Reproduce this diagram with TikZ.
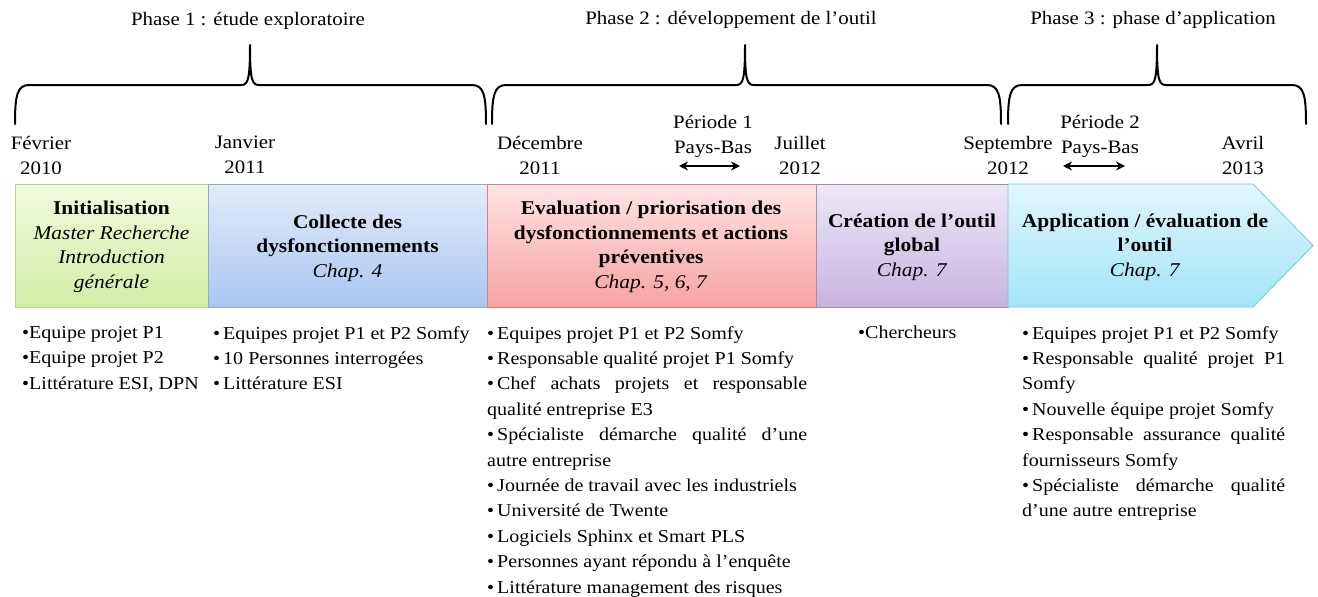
\documentclass[tikz,border=0pt]{standalone}
\usepackage{fontspec}
\setmainfont{Liberation Serif}[FakeStretch=1.1]
\usetikzlibrary{arrows.meta}

\definecolor{gTop}{HTML}{F0FADD}\definecolor{gBot}{HTML}{D4EEA6}\definecolor{gLine}{HTML}{B3D68A}
\definecolor{bTop}{HTML}{E2ECFB}\definecolor{bBot}{HTML}{A9C6F2}\definecolor{bLine}{HTML}{8EAADB}
\definecolor{rTop}{HTML}{FFE4E4}\definecolor{rBot}{HTML}{F7A3A0}\definecolor{rLine}{HTML}{E07C7C}
\definecolor{pTop}{HTML}{EEE8F6}\definecolor{pBot}{HTML}{C6B3E0}\definecolor{pLine}{HTML}{A08CC0}
\definecolor{cTop}{HTML}{E0F6FD}\definecolor{cBot}{HTML}{A3E4F8}\definecolor{cLine}{HTML}{74C5E0}

% curly brace over a phase: left end, tip, right end
\newcommand\phbrace[3]{%
  \draw[brace] (#1,124) .. controls (#1,96) and (#1+2,85) .. (#1+14,85)
    -- (#2-9,85) .. controls (#2-2,85) and (#2,80) .. (#2,45)
    .. controls (#2,80) and (#2+2,85) .. (#2+9,85)
    -- (#3-14,85) .. controls (#3-2,85) and (#3,96) .. (#3,124);}

\begin{document}
\begin{tikzpicture}[x=1pt,y=-1pt,
  lbl/.style={align=center,inner sep=0pt,font=\fontsize{19}{25}\selectfont},
  boxtxt/.style={align=center,inner sep=0pt,font=\fontsize{19.5}{24.5}\selectfont},
  lst/.style={anchor=north west,inner sep=0pt,align=justify,font=\fontsize{18.2}{25.4}\selectfont},
  brace/.style={line width=2pt,line cap=round,line join=round},
  period/.style={line width=2.2pt,{Stealth[length=9pt,width=9pt]}-{Stealth[length=9pt,width=9pt]}},
  stage/.style={line width=0.8pt}
]
\useasboundingbox (0,0) rectangle (1318,597);

% phase titles and braces
\node[lbl] (ph1) at (248,21) {Phase 1 : étude exploratoire};
\node[lbl] (ph2) at (731,20) {Phase 2 : développement de l’outil};
\node[lbl] (ph3) at (1153,20) {Phase 3 : phase d’application};
\phbrace{15}{250}{486}
\phbrace{492}{745}{1001}
\phbrace{1008}{1157}{1306}

% milestone dates
\node[lbl] (d1) at (41,155) {Février\\2010};
\node[lbl] (d2) at (245,155) {Janvier\\2011};
\node[lbl] (d3) at (540,155) {Décembre\\2011};
\node[lbl] (d4) at (800,155) {Juillet\\2012};
\node[lbl] (d5) at (1008,155) {Septembre\\2012};
\node[lbl] (d6) at (1243,155) {Avril\\2013};

% stays in the Netherlands
\node[lbl] (p1) at (713,136) {Période 1\\Pays-Bas};
\node[lbl] (p2) at (1100,136) {Période 2\\Pays-Bas};
\coordinate (p1a) at (679,166); \coordinate (p1b) at (740,166);
\coordinate (p2a) at (1063,166); \coordinate (p2b) at (1125,166);
\draw[period] (p1a) -- (p1b);
\draw[period] (p2a) -- (p2b);

% stage boxes
\path[stage,draw=gLine,top color=gTop,bottom color=gBot] (15,184) rectangle (208,307);
\path[stage,draw=bLine,top color=bTop,bottom color=bBot] (208,184) rectangle (487,307);
\path[stage,draw=rLine,top color=rTop,bottom color=rBot] (487,184) rectangle (816,307);
\path[stage,draw=pLine,top color=pTop,bottom color=pBot] (816,184) rectangle (1008,307);
\path[stage,draw=cLine,top color=cTop,bottom color=cBot]
  (1008,184) -- (1253,184) -- (1313,245.5) -- (1253,307) -- (1008,307) -- cycle;

\node[boxtxt] (b1) at (111.5,247) {\textbf{Initialisation}\\\textit{Master Recherche}\\\textit{Introduction}\\\textit{générale}};
\node[boxtxt] (b2) at (347.5,248) {\textbf{Collecte des}\\\textbf{dysfonctionnements}\\\textit{Chap. 4}};
\node[boxtxt] (b3) at (651,247) {\textbf{Evaluation / priorisation des}\\\textbf{dysfonctionnements et actions}\\\textbf{préventives}\\\textit{Chap. 5, 6, 7}};
\node[boxtxt] (b4) at (912,247) {\textbf{Création de l’outil}\\\textbf{global}\\\textit{Chap. 7}};
\node[boxtxt] (b5) at (1145,247) {\textbf{Application / évaluation de}\\\textbf{l’outil}\\\textit{Chap. 7}};

% resources used in each stage
\node[lst,text width=185] (l1) at (22,326) {•Equipe projet P1\\•Equipe projet P2\\•Littérature ESI, DPN};
\node[lst,text width=270] (l2) at (213,326) {•\,Equipes projet P1 et P2 Somfy\\•\,10 Personnes interrogées\\•\,Littérature ESI};
\node[lst,text width=320] (l3) at (487,326) {•\,Equipes projet P1 et P2 Somfy\\
•\,Responsable qualité projet P1 Somfy\\
•\,Chef achats projets et responsable\linebreak qualité entreprise E3\\
•\,Spécialiste démarche qualité d’une\linebreak autre entreprise\\
•\,Journée de travail avec les industriels\\
•\,Université de Twente\\
•\,Logiciels Sphinx et Smart PLS\\
•\,Personnes ayant répondu à l’enquête\\
•\,Littérature management des risques};
\node[lst,text width=140] (l4) at (858,326) {•Chercheurs};
\node[lst,text width=263] (l5) at (1022,326) {•\,Equipes projet P1 et P2 Somfy\\
•\,Responsable qualité projet P1\linebreak Somfy\\
•\,Nouvelle équipe projet Somfy\\
•\,Responsable assurance qualité\linebreak fournisseurs Somfy\\
•\,Spécialiste démarche qualité\linebreak d’une autre entreprise};
\end{tikzpicture}
\end{document}
